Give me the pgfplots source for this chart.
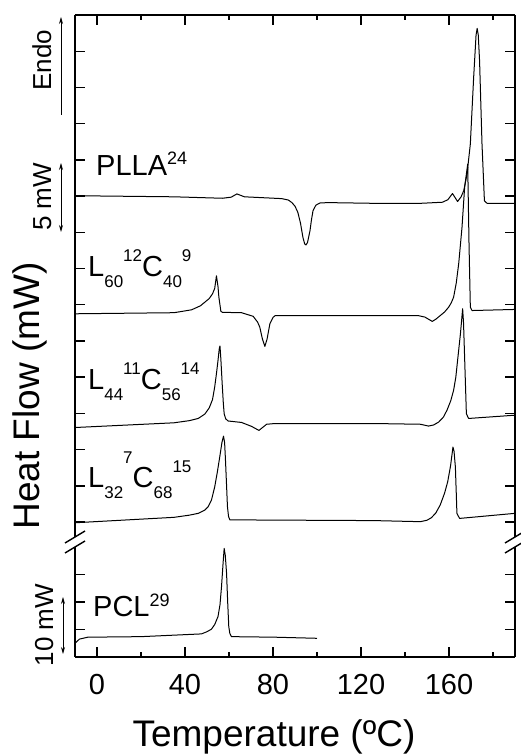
\documentclass[border=0pt]{standalone}
\usepackage{fontspec}
\setmainfont{Liberation Sans}
\usepackage{pgfplots}
\pgfplotsset{compat=1.18}
\usetikzlibrary{arrows.meta}

% sample labels: subscript / superscript placed one after the other
\newcommand{\lo}[1]{\raisebox{-11pt}{\fontsize{17}{17}\selectfont #1}}
\newcommand{\hi}[2][15pt]{\raisebox{#1}{\fontsize{17}{17}\selectfont #2}}

\pgfplotsset{
  dsc/.style={
    scale only axis, width=440pt,
    xmin=-10, xmax=190,
    axis line style={line width=1.6pt, -},
    tick style={line width=1.4pt, black},
    major tick length=10pt, minor tick length=5pt,
    tick align=inside,
    xtick={0,40,...,160}, minor xtick={20,60,...,180},
    yticklabels={},
  },
  curve/.style={black, line width=1.0pt, mark=none, line join=round},
}

\begin{document}
\begin{tikzpicture}
\useasboundingbox (0pt,0pt) rectangle (521pt,756pt);

% upper panel: copolymers and PLLA
\begin{axis}[
  axis x line*=top, axis y line*=box, dsc,
  xtick pos=right, ytick pos=both,
  at={(75pt,219pt)}, anchor=south west,
  height=522pt, ymin=-0.413, ymax=14,
  ytick={0,...,13}, xticklabels={},
]
% PLLA
\addplot[curve] coordinates {
(-10,9.01) (35,8.98) (57,8.94) (61,8.97) (63.6,9.06) (67,8.98) (84,8.93)
(87,8.89) (88.6,8.82) (90,8.72) (91.3,8.55) (92.5,8.25) (93.6,7.86) (94.4,7.68)
(95.0,7.65) (95.7,7.72) (96.8,8.04) (97.5,8.35) (98.2,8.60) (99.5,8.75) (101.4,8.81)
(105,8.82) (126,8.80) (147,8.80) (157,8.83) (159.5,8.90) (161.6,9.07) (163.9,8.85)
(165.5,8.98) (166.7,9.15) (168.2,9.61) (169.7,10.44) (171.2,12.27) (172.3,13.45)
(172.8,13.63) (173.3,13.45) (173.9,12.73) (175.0,10.44) (176.1,8.87) (177.3,8.80) (190,8.80)
};
% L60 12 C40 9
\addplot[curve] coordinates {
(-10,5.75) (35,5.78) (43,5.86) (47,5.97) (49,6.07) (51,6.17) (52.5,6.30) (53.5,6.45)
(54.3,6.80) (55.0,6.50) (55.4,6.21) (56.3,5.82) (57,5.79) (65.7,5.78) (71,5.68) (73,5.52)
(74,5.38) (75.2,5.05) (76.3,4.85) (77.3,5.05) (78.6,5.48) (80,5.65) (81,5.70)
(126,5.70) (146,5.70) (149,5.66) (152.4,5.54) (154,5.60) (156,5.70) (158,5.80)
(159.8,5.93) (161,6.05) (162.1,6.21) (163.3,6.60) (164.4,7.13) (165.9,8.13) (167.1,9.24)
(168.5,9.88) (169.1,7.68) (169.7,5.93) (170.5,5.84) (190,5.87)
};
% L44 11 C56 14
\addplot[curve] coordinates {
(-10,2.61) (35,2.74) (42,2.80) (46,2.86) (49,2.98) (51,3.15) (52.5,3.38) (53.5,3.73)
(54.3,4.10) (55,4.46) (55.6,4.80) (55.9,4.86) (56.3,4.50) (56.9,3.82) (57.4,3.30)
(57.8,2.99) (58.5,2.85) (59.6,2.79) (65.7,2.75) (70.3,2.64) (73.6,2.53) (77.1,2.70)
(80.9,2.72) (126,2.72) (147,2.70) (150.7,2.65) (153,2.68) (155.3,2.76) (157.5,2.90)
(159.1,3.09) (160.8,3.35) (162.1,3.64) (163.1,4.00) (163.9,4.46) (165.2,5.20)
(166.2,5.89) (166.6,5.50) (167.0,4.74) (167.9,2.99) (168.9,2.86) (190,2.95)
};
% L32 7 C68 15
\addplot[curve] coordinates {
(-10,-0.02) (35,0.13) (42,0.19) (46,0.24) (49,0.33) (50.5,0.42) (52,0.60) (53.5,0.97)
(54.7,1.38) (55.8,1.80) (56.8,2.20) (57.5,2.37) (58.0,2.20) (58.4,1.71) (58.9,1.00)
(59.3,0.42) (59.8,0.15) (60.4,0.06) (126,0.04) (147,0.01) (150,0.05) (152,0.12)
(154,0.25) (156,0.47) (158,0.80) (159.4,1.11) (160.7,1.55) (161.8,2.07) (162.3,1.95)
(162.9,1.52) (163.3,0.80) (163.6,0.24) (164.8,0.10) (190,0.24)
};
\end{axis}

% lower panel: PCL
\begin{axis}[
  axis x line*=bottom, axis y line*=box, dsc,
  xtick pos=left, ytick pos=both,
  at={(75pt,99pt)}, anchor=south west,
  height=110pt, ymin=0, ymax=4,
  ytick={1,2,3},
  /pgf/number format/assume math mode=true,
  xticklabel style={font=\fontsize{29}{34}\selectfont, yshift=-14pt},
]
\addplot[curve] coordinates {
(-10,0.50) (-8,0.65) (-4.2,0.72) (20,0.74) (47.5,0.84) (50,0.92) (52,1.01) (53.5,1.18)
(55,1.47) (55.9,1.90) (56.6,2.56) (57.3,3.40) (57.8,3.95) (58.3,3.70) (58.9,3.04)
(59.4,2.00) (59.9,1.10) (60.4,0.85) (61.1,0.74) (80.9,0.72) (100,0.68)
};
\end{axis}

% axis break marks
\draw[line width=1.4pt] (65pt,213pt) -- (85pt,225pt);
\draw[line width=1.4pt] (65pt,203pt) -- (85pt,215pt);
\draw[line width=1.4pt] (505pt,213pt) -- (525pt,225pt);
\draw[line width=1.4pt] (505pt,203pt) -- (525pt,215pt);

% scale bars
\draw[line width=0.8pt, -{Stealth[length=7pt,width=4pt]}] (61pt,641pt) -- (61pt,739pt);
\draw[line width=0.8pt, {Stealth[length=7pt,width=4pt]}-{Stealth[length=7pt,width=4pt]}] (61pt,524pt) -- (61pt,593pt);
\draw[line width=0.8pt, {Stealth[length=7pt,width=4pt]}-{Stealth[length=7pt,width=4pt]}] (63pt,102pt) -- (63pt,159pt);
\node[rotate=90, anchor=base, inner sep=0pt, font=\fontsize{26}{30}\selectfont] at (51pt,696pt) {Endo};
\node[rotate=90, anchor=base, inner sep=0pt, font=\fontsize{26}{30}\selectfont] at (51pt,559pt) {5 mW};
\node[rotate=90, anchor=base, inner sep=0pt, font=\fontsize{26}{30}\selectfont] at (53pt,131pt) {10 mW};

% axis titles
\node[rotate=90, anchor=base, inner sep=0pt, font=\fontsize{37}{44}\selectfont] at (39pt,360pt) {Heat Flow (mW)};
\node[anchor=base, inner sep=0pt, font=\fontsize{37}{44}\selectfont] at (274pt,9.3pt) {Temperature (ºC)};

% curve labels
\begin{scope}[every node/.style={anchor=base west, inner sep=0pt, font=\fontsize{29}{34}\selectfont}]
\node at (96pt,580pt) {PLLA\hi[11pt]{\fontsize{18}{18}\selectfont 24}};
\node at (88pt,479pt) {L\lo{60}\hi{12}C\lo{40}\hi{9}};
\node at (88pt,366pt) {L\lo{44}\hi{11}C\lo{56}\hi{14}};
\node at (88pt,268pt) {L\lo{32}\hi[24pt]{7}C\lo{68}\hi{15}};
\node at (93pt,139pt) {PCL\hi[10pt]{\fontsize{18}{18}\selectfont 29}};
\end{scope}
\end{tikzpicture}
\end{document}
